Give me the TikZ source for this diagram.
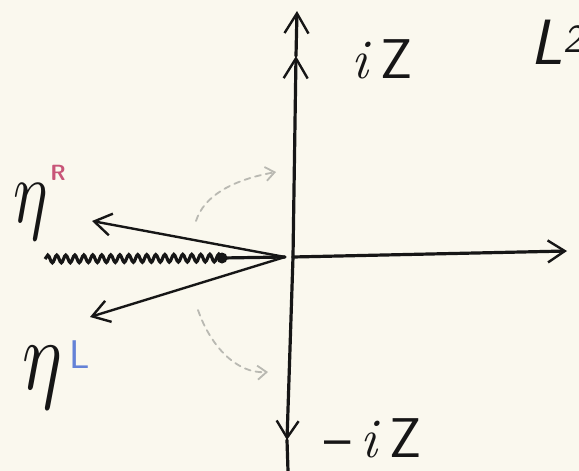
\documentclass[tikz,border=0pt]{standalone}
\usetikzlibrary{decorations.pathmorphing,arrows.meta}
\definecolor{paper}{RGB}{250,248,238}
\definecolor{ink}{RGB}{22,22,22}
\definecolor{pinkink}{RGB}{200,85,120}
\definecolor{blueink}{RGB}{100,130,215}
\definecolor{faint}{RGB}{185,185,178}
\begin{document}
\begin{tikzpicture}[x=1pt,y=-1pt,
  axis/.style={draw=ink, line width=3.2pt, line cap=round},
  ray/.style={draw=ink, line width=2.4pt, line cap=round},
  bigtip/.style={-{Straight Barb[length=20pt,width=24pt,line width=2.4pt]}},
  midtip/.style={-{Straight Barb[length=17pt,width=22pt,line width=2.4pt]}},
  hint/.style={draw=faint, line width=1.8pt, dashed, dash pattern=on 6pt off 5pt, line cap=round,
     -{Straight Barb[length=9pt,width=14pt,line width=1.8pt]}},
  lbl/.style={inner sep=0pt, text=ink},
  cut/.style={draw=ink, line width=3.2pt, decorate,
     decoration={snake, amplitude=3.8pt, segment length=9pt}}]
\fill[paper] (0,0) rectangle (579,471);
\useasboundingbox (0,0) rectangle (579,471);
% key points
\coordinate (O) at (285,257);
\coordinate (vbot) at (288,471);
\coordinate (vdown) at (287,440);
\coordinate (vmid) at (293,257);
\coordinate (vup1) at (296,56);
\coordinate (vup2) at (297,11);
\coordinate (hend) at (567,251);
\coordinate (rayA) at (92,221);
\coordinate (rayB) at (90,317);
\coordinate (wstart) at (45,259);
\coordinate (wdot) at (222,258);
% axes
\draw[axis] (vbot) -- (vdown);
\draw[axis,midtip] (vmid) -- (vdown);
\draw[axis,bigtip] (vmid) -- (vup1);
\draw[axis,bigtip] (vup1) -- (vup2);
\draw[axis,midtip] (vmid) -- (hend);
% rays from origin
\draw[ray,midtip] (O) -- (rayA);
\draw[ray,midtip] (O) -- (rayB);
% branch cut
\draw[cut] (wstart) -- (wdot);
\draw[axis] (wdot) -- (O);
\fill[ink] (wdot) circle (5.5pt);
% faint rotation hints
\coordinate (hA0) at (196,221);
\coordinate (hA1) at (276,172);
\coordinate (hB0) at (198,310);
\coordinate (hB1) at (268,372);
\draw[hint] (hA0) .. controls (204,196) and (232,180) .. (hA1);
\draw[hint] (hB0) .. controls (210,345) and (236,374) .. (hB1);
% labels
\node[lbl, anchor=base] (iz) at (382,78) {\fontsize{56}{60}\selectfont\textit{i}\,\textsf{Z}};
\node[lbl, anchor=base] (miz) at (373,457) {\fontsize{56}{60}\selectfont\textsf{–}\,\textit{i}\,\textsf{Z}};
\node[lbl] (etaA) at (31,212) {\scalebox{6.5}[9]{$\eta$}};
\node[lbl, text=pinkink] (supA) at (58,173) {\fontsize{22}{24}\selectfont\sffamily\bfseries R};
\node[lbl] (etaB) at (42,378) {\scalebox{7.5}[10]{$\eta$}};
\node[lbl, text=blueink] (supB) at (80,355) {\fontsize{40}{42}\selectfont\sffamily L};
\node[lbl, anchor=west] (corner) at (530,42) {\fontsize{64}{66}\selectfont\sffamily\slshape L\kern1pt\raisebox{12pt}{\fontsize{40}{42}\selectfont 2}};
\end{tikzpicture}
\end{document}
